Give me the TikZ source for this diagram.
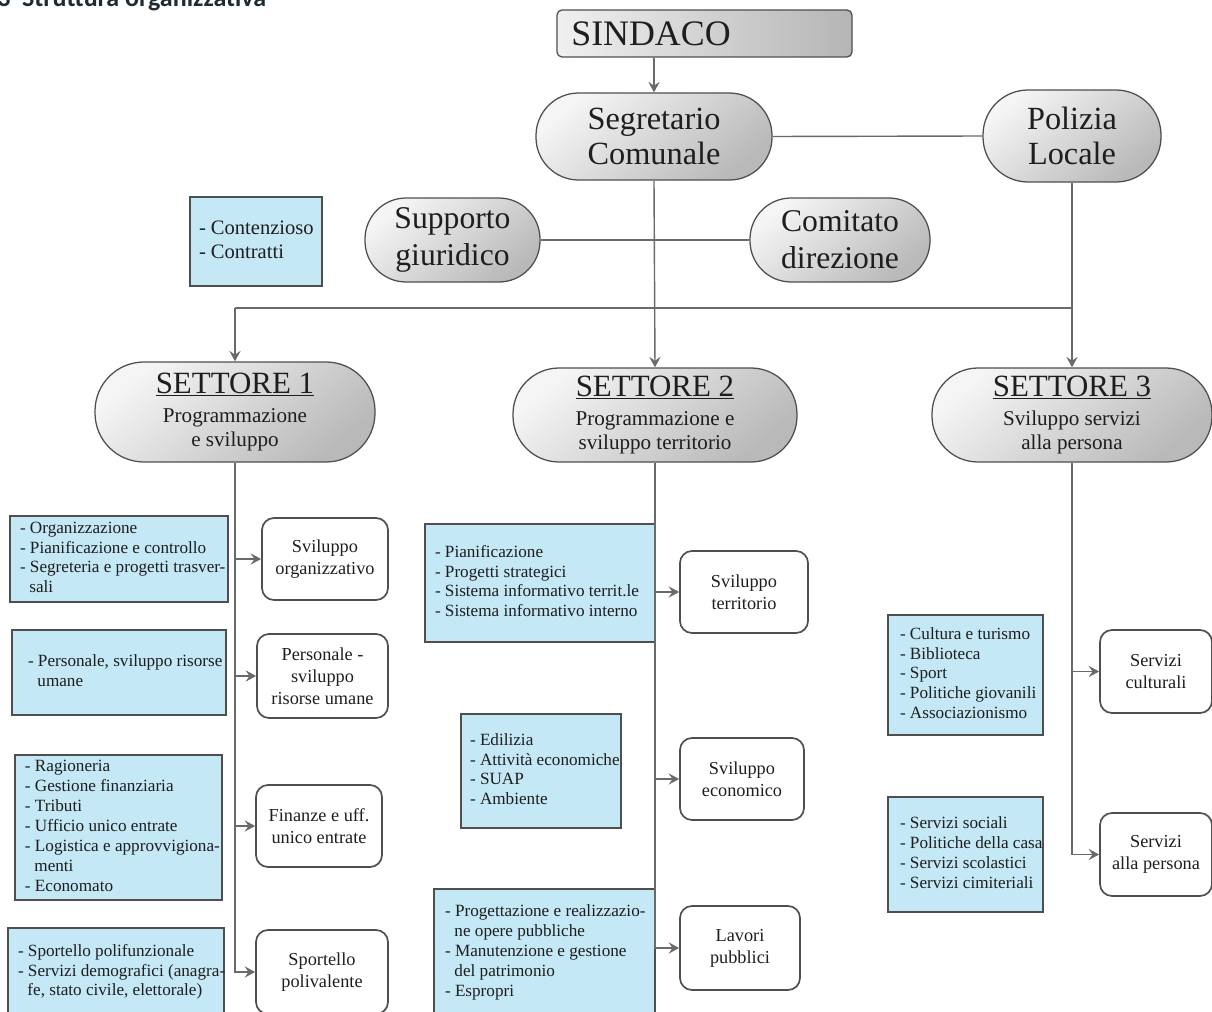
\documentclass[tikz,border=0pt]{standalone}
\usepackage{fontspec}
\setmainfont{Liberation Serif}
\newfontfamily\titlefont{Carlito}
\usetikzlibrary{arrows.meta,calc}
\newdimen\pxu \pxu=0.025cm
\definecolor{linegray}{HTML}{6A6A6A}
\definecolor{bordergray}{HTML}{4F4F4F}
\definecolor{boxblue}{HTML}{C4E8F6}
\definecolor{txt}{HTML}{1E1E1E}
\definecolor{titlecol}{HTML}{1F2A33}
\newcommand\bltext[3]{\hbox to #1\pxu{\hspace*{#2\pxu}\begin{tabular}{@{}l@{}}#3\end{tabular}\hss}}
\tikzset{
  conn/.style={draw=linegray, line width=1pt},
  arr/.style={conn, -{Stealth[length=7.5pt,width=8pt,inset=2.8pt]}},
  oval/.style 2 args={draw=bordergray, line width=0.9pt,
     minimum width=#1\pxu, minimum height=#2\pxu, rounded corners=0.49*#2\pxu,
     top color=gray!8, bottom color=gray!55, shading angle=40,
     text=txt, align=center, inner sep=0pt},
  sindacobox/.style={draw=bordergray, line width=0.9pt, rounded corners=5\pxu,
     left color=gray!12, right color=gray!58, inner sep=0pt},
  bluebox/.style 2 args={draw=bordergray, line width=1.2pt, fill=boxblue,
     minimum width=#1\pxu, minimum height=#2\pxu, inner sep=0pt, text=txt,
     font=\fontsize{12.2}{14.2}\selectfont},
  whitebox/.style 2 args={draw=bordergray, line width=1.2pt, fill=white,
     rounded corners=12\pxu, minimum width=#1\pxu, minimum height=#2\pxu,
     inner sep=0pt, align=center, text=txt, font=\fontsize{13}{15.6}\selectfont},
  big/.style={font=\fontsize{23}{25}\selectfont},
  bigsp/.style={font=\fontsize{22.5}{26.3}\selectfont},
  sett/.style={font=\fontsize{15}{17}\selectfont},
}
\newcommand\settore[3]{{\fontsize{22}{24}\selectfont\underline{SETTORE #1}}\\[4pt]#2\\#3}
\begin{document}
\begin{tikzpicture}[x=0.025cm,y=-0.025cm]
\useasboundingbox[fill=white] (0,0) rectangle (1212,1012);

% title (cut at top)
\node[anchor=base west, inner sep=0pt, text=titlecol,
      font=\titlefont\bfseries\fontsize{18.5}{20}\selectfont] (title) at (-3,7)
      {3\hspace{0.45em}Struttura organizzativa};

% top level
\node[sindacobox, minimum width=295\pxu, minimum height=47\pxu] (sindaco) at (704.5,33.5) {};
\node[text=txt, font=\fontsize{25.5}{27}\selectfont, inner sep=0pt] (sindacotxt) at (651,34) {SINDACO};

\node[oval={236}{87}, big] (segr) at (654,136.5) {Segretario\\Comunale};
\node[oval={178}{92}, big] (pol) at (1072,136) {Polizia\\Locale};
\node[oval={175}{84}, bigsp] (sup) at (452.5,240) {Supporto\\giuridico};
\node[oval={180}{84}, bigsp] (com) at (840,240) {Comitato\\direzione};

\node[bluebox={132}{89}, font=\fontsize{14.6}{17}\selectfont] (cont) at (256,241.5)
   {\bltext{132}{9}{- Contenzioso\\- Contratti}};

% settori
\node[oval={280}{100}, sett] (s1) at (235,412) {\settore{1}{Programmazione}{e sviluppo}};
\node[oval={284}{94}, sett] (s2) at (655,415) {\settore{2}{Programmazione e}{sviluppo territorio}};
\node[oval={280}{94}, sett] (s3) at (1072,415) {\settore{3}{Sviluppo servizi}{alla persona}};

% settore 1 boxes
\node[bluebox={218}{86}] (b1) at (119,559)
  {\bltext{218}{10}{- Organizzazione\\- Pianificazione e controllo\\- Segreteria e progetti trasver-\\\hspace*{0.55em}sali}};
\node[bluebox={214}{85}] (b2) at (119,672.5)
  {\bltext{214}{16}{- Personale, sviluppo risorse\\\hspace*{0.55em}umane}};
\node[bluebox={207}{145}] (b3) at (118.5,827.5)
  {\bltext{207}{10}{- Ragioneria\\- Gestione finanziaria\\- Tributi\\- Ufficio unico entrate\\- Logistica e approvvigiona-\\\hspace*{0.55em}menti\\- Economato}};
\node[bluebox={216}{88}] (b4) at (116,972)
  {\bltext{216}{10}{- Sportello polifunzionale\\- Servizi demografici (anagra-\\\hspace*{0.55em}fe, stato civile, elettorale)}};

\node[whitebox={126}{82}] (w1) at (325,559) {Sviluppo\\organizzativo};
\node[whitebox={131}{84}] (w2) at (322.5,676) {Personale -\\sviluppo\\risorse umane};
\node[whitebox={126}{82}] (w3) at (319,826) {Finanze e uff.\\unico entrate};
\node[whitebox={132}{84}] (w4) at (322,972) {Sportello\\polivalente};

% settore 2 boxes
\node[bluebox={230}{118}] (b5) at (540,583)
  {\bltext{230}{10}{- Pianificazione\\- Progetti strategici\\- Sistema informativo territ.le\\- Sistema informativo interno}};
\node[bluebox={160}{114}] (b6) at (541,771)
  {\bltext{160}{9}{- Edilizia\\- Attività economiche\\- SUAP\\- Ambiente}};
\node[bluebox={221}{127}] (b7) at (544.5,952.5)
  {\bltext{221}{11}{- Progettazione e realizzazio-\\\hspace*{0.55em}ne opere pubbliche\\- Manutenzione e gestione\\\hspace*{0.55em}del patrimonio\\- Espropri}};

\node[whitebox={128}{82}] (w5) at (744,592) {Sviluppo\\territorio};
\node[whitebox={124}{82}] (w6) at (742,779) {Sviluppo\\economico};
\node[whitebox={120}{84}] (w7) at (740,948) {Lavori\\pubblici};

% settore 3 boxes
\node[bluebox={155}{120}] (b8) at (965.5,675)
  {\bltext{155}{12}{- Cultura e turismo\\- Biblioteca\\- Sport\\- Politiche giovanili\\- Associazionismo}};
\node[bluebox={155}{115}] (b9) at (965.5,854.5)
  {\bltext{155}{12}{- Servizi sociali\\- Politiche della casa\\- Servizi scolastici\\- Servizi cimiteriali}};

\node[whitebox={112}{83}] (w8) at (1156,671.5) {Servizi\\culturali};
\node[whitebox={112}{83}] (w9) at (1156,854.5) {Servizi\\alla persona};

% connectors top
\draw[arr] (sindaco.south -| segr.north) -- (segr.north);
\draw[conn] (segr.east) -- (pol.west);
\draw[conn] (sup.east) -- (com.west);
\coordinate (bar) at (0,308);
\draw[conn] (s1.north |- bar) -- (pol.south |- bar);
\draw[arr] (s1.north |- bar) -- (s1.north);
\draw[arr] (segr.south) -- (s2.north);
\draw[arr] (pol.south) -- (s3.north);

% settore 1 tree
\draw[arr] (s1.south) -- (s1.south |- w4.west) -- (w4.west);
\draw[arr] (s1.south |- w1.west) -- (w1.west);
\draw[arr] (s1.south |- w2.west) -- (w2.west);
\draw[arr] (s1.south |- w3.west) -- (w3.west);

% settore 2 tree
\draw[arr] (s2.south) -- (s2.south |- w7.west) -- (w7.west);
\draw[arr] (s2.south |- w5.west) -- (w5.west);
\draw[arr] (s2.south |- w6.west) -- (w6.west);

% settore 3 tree
\draw[arr] (s3.south) -- (s3.south |- w9.west) -- (w9.west);
\draw[arr] (s3.south |- w8.west) -- (w8.west);
\end{tikzpicture}
\end{document}
